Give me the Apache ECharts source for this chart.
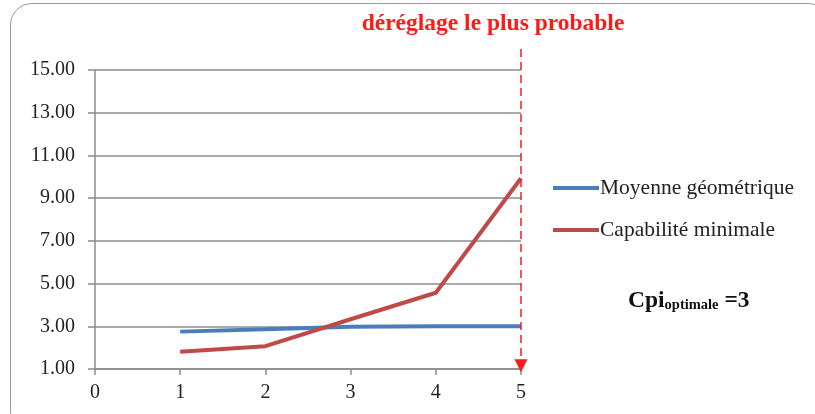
<!DOCTYPE html>
<html><head><meta charset="utf-8">
<script src="https://cdn.jsdelivr.net/npm/echarts@6/dist/echarts.min.js"></script>
<style>
html,body{margin:0;padding:0;background:#fff;overflow:hidden;}
#frame{position:absolute;left:10px;top:3px;width:820px;height:430px;border:1.5px solid #9a9a9a;border-radius:22px;box-sizing:border-box;}
#chart{position:absolute;left:0;top:0;width:815px;height:414px;}
</style></head>
<body>
<div id="frame"></div>
<div id="chart"></div>
<script>
const xValues = [1, 2, 3, 4, 5];
const moyenneGeometrique = [2.75, 2.86, 2.98, 3.0, 3.0];
const capabiliteMinimale = [1.81, 2.07, 3.33, 4.57, 9.93];
const seriesNames = ['Moyenne géométrique', 'Capabilité minimale'];
const titleText = 'déréglage le plus probable';
const annotation = { main: 'Cpi', sub: 'optimale', tail: ' =3' };
const markerX = 5;
const markerTop = 16.03;
const markerBottom = 1;

const chart = echarts.init(document.getElementById('chart'), null, { renderer: 'canvas' });
const serif = '"Liberation Serif", "Times New Roman", serif';
const axisGray = '#8c8c8c';
chart.setOption({
  backgroundColor: 'transparent',
  animation: false,
  title: {
    text: titleText,
    left: 488, top: 7, textAlign: 'center',
    textStyle: { color: '#ff1a1a', fontFamily: serif, fontWeight: 'bold', fontSize: 23.5 }
  },
  grid: [
    { left: 95, right: 294, top: 70, bottom: 45 },
    { left: 95, right: 294, top: 48, bottom: 45 }
  ],
  legend: {
    orient: 'vertical', left: 553, top: 177, itemGap: 20, padding: 0,
    itemWidth: 46, itemHeight: 4, icon: 'rect',
    textStyle: { fontFamily: serif, fontSize: 21.5, color: '#222', padding: [0, 0, 0, -4] },
    data: seriesNames
  },
  xAxis: [{
    type: 'value', min: 0, max: 5, interval: 1, gridIndex: 0,
    axisLine: { lineStyle: { color: axisGray, width: 1.5 } },
    axisTick: { show: true, length: 6, lineStyle: { color: axisGray, width: 1.5 } },
    axisLabel: { fontFamily: serif, fontSize: 20, color: '#222', margin: 14 },
    splitLine: { show: false }
  }, {
    type: 'value', min: 0, max: 5, gridIndex: 1, show: false
  }],
  yAxis: [{
    type: 'value', min: 1, max: 15, interval: 2, gridIndex: 0,
    axisLine: { show: true, lineStyle: { color: axisGray, width: 1.5 } },
    axisTick: { show: true, length: 7, lineStyle: { color: axisGray, width: 1.5 } },
    axisLabel: { fontFamily: serif, fontSize: 20, color: '#222', margin: 20,
      formatter: v => v.toFixed(2) },
    splitLine: { show: true, lineStyle: { color: axisGray, width: 1.5 } }
  }, {
    type: 'value', min: markerBottom, max: markerTop + 0.05, gridIndex: 1, show: false
  }],
  graphic: [{
    type: 'text', left: 628, top: 289,
    style: {
      text: '{a|' + annotation.main + '}{b|' + annotation.sub + '}{a|' + annotation.tail + '}',
      rich: {
        a: { fontFamily: serif, fontWeight: 'bold', fontSize: 23.5, fill: '#111', verticalAlign: 'bottom' },
        b: { fontFamily: serif, fontWeight: 'bold', fontSize: 14.5, fill: '#111', padding: [10, 0, 0, 0], verticalAlign: 'bottom' }
      }
    }
  }],
  series: [
    {
      name: seriesNames[0], type: 'line', symbol: 'none', z: 3,
      data: xValues.map((x, i) => [x, moyenneGeometrique[i]]),
      lineStyle: { color: '#4a7ebb', width: 4 }, itemStyle: { color: '#4a7ebb' }
    },
    {
      name: seriesNames[1], type: 'line', symbol: 'none', z: 4,
      data: xValues.map((x, i) => [x, capabiliteMinimale[i]]),
      lineStyle: { color: '#be4b48', width: 4 }, itemStyle: { color: '#be4b48' }
    },
    {
      name: 'marker', type: 'line', xAxisIndex: 1, yAxisIndex: 1, data: [], z: 5,
      markLine: {
        silent: true, symbol: ['none', 'triangle'], symbolSize: [13, 13],
        label: { show: false },
        lineStyle: { color: '#ff1a1a', type: [8, 5], width: 1.5 },
        data: [[{ coord: [markerX, markerTop] }, { coord: [markerX, markerBottom + 0.15] }]]
      }
    }
  ]
});
</script>
</body></html>
